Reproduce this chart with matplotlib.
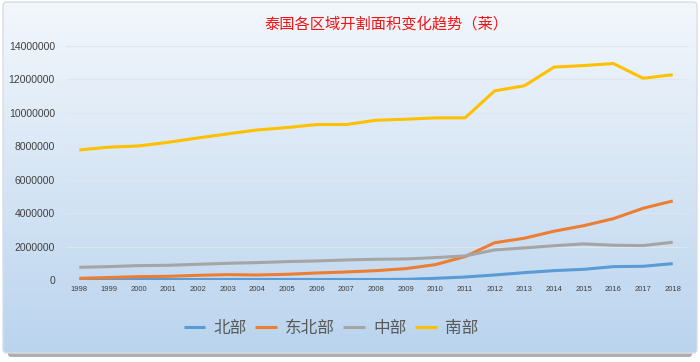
import numpy as np
import matplotlib.pyplot as plt
from matplotlib.patches import FancyBboxPatch

plt.rcParams['font.family'] = ['Noto Sans CJK SC', 'DejaVu Sans']

years = list(range(1998, 2019))
north = [30000, 30000, 30000, 30000, 30000, 30000, 30000, 30000, 30000, 30000, 30000,
         40000, 100000, 180000, 300000, 440000, 560000, 640000, 800000, 820000, 980000]
northeast = [100000, 150000, 200000, 220000, 280000, 320000, 300000, 340000, 420000, 480000, 560000,
             680000, 920000, 1400000, 2230000, 2500000, 2920000, 3250000, 3670000, 4290000, 4730000]
central = [760000, 800000, 860000, 880000, 940000, 1000000, 1040000, 1100000, 1140000, 1200000, 1240000,
           1260000, 1340000, 1440000, 1800000, 1920000, 2050000, 2160000, 2080000, 2060000, 2260000]
south = [7780000, 7950000, 8020000, 8240000, 8500000, 8740000, 8980000, 9120000, 9300000, 9300000, 9560000,
         9620000, 9700000, 9700000, 11320000, 11620000, 12740000, 12830000, 12950000, 12070000, 12280000]
series = {'北部': (north, '#5b9bd5'), '东北部': (northeast, '#ed7d31'),
          '中部': (central, '#a5a5a5'), '南部': (south, '#ffc000')}

fig = plt.figure(figsize=(7, 3.62), dpi=100)
fig.patch.set_facecolor('white')

# background gradient, frame, bottom shadow
bg = fig.add_axes([0, 0, 1, 1], zorder=0)
bg.set_xlim(0, 700)
bg.set_ylim(362, 0)
bg.axis('off')
shadow = FancyBboxPatch((8, 300), 684, 57, boxstyle='round,pad=0,rounding_size=3',
                        facecolor='#9a9a9a', edgecolor='none', alpha=0.8)
bg.add_patch(shadow)
grad = np.linspace(0, 1, 256).reshape(-1, 1)
top_c = np.array([243, 247, 252]) / 255
bot_c = np.array([186, 212, 238]) / 255
img = top_c + grad[..., None] * (bot_c - top_c)
im = bg.imshow(img, extent=[3, 697, 353, 2], aspect='auto', zorder=1)
frame = FancyBboxPatch((3, 2), 694, 351, boxstyle='round,pad=0,rounding_size=4',
                       facecolor='none', edgecolor='#d9dde3', lw=1.0, zorder=2)
bg.add_patch(frame)
im.set_clip_path(frame)

ax = fig.add_axes([66 / 700, 82 / 362, 621 / 700, 234 / 362], zorder=1)
ax.set_facecolor('none')
for name, (vals, col) in series.items():
    ax.plot(years, vals, color=col, lw=2.2, label=name, solid_capstyle='butt')

ax.set_xlim(1997.55, 2018.48)
ax.set_ylim(0, 14000000)
ax.set_yticks(range(0, 14000001, 2000000))
ax.set_yticklabels([str(v) for v in range(0, 14000001, 2000000)],
                   fontsize=7.5, color='#404040', family='Liberation Sans')
ax.set_xticks(years)
ax.set_xticklabels([str(y) for y in years], fontsize=5.5, color='#404040', family='Liberation Sans')
ax.tick_params(length=0, pad=4)
ax.tick_params(axis='y', pad=8)
ax.grid(axis='y', color='#e0e6ee', lw=0.8)
for s in ax.spines.values():
    s.set_visible(False)

fig.text(386 / 700, 1 - 24 / 362, '泰国各区域开割面积变化趋势（莱）', color='#f01414',
         fontsize=11, ha='center', va='center', fontweight='medium')

fig.legend(loc='center', bbox_to_anchor=(331 / 700, 1 - 328 / 362), ncol=4, frameon=False,
           fontsize=12, labelcolor='#595959', handlelength=1.3, handletextpad=0.5,
           columnspacing=0.5)

fig.savefig('out.png', dpi=100)
